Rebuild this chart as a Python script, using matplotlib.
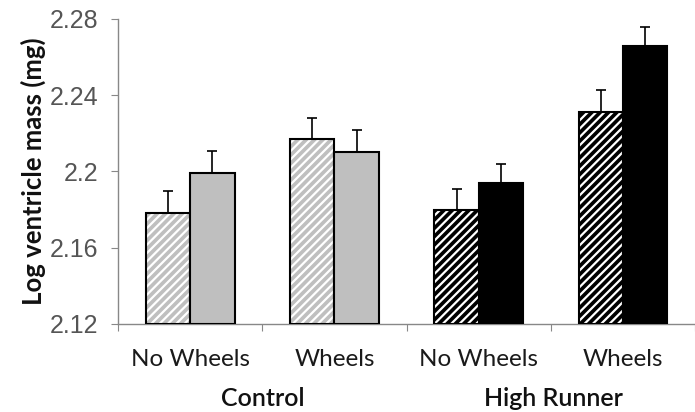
import numpy as np
import matplotlib.pyplot as plt

# data
groups = ["Control", "High Runner"]
conditions = ["No Wheels", "Wheels", "No Wheels", "Wheels"]
hatched_vals = [2.178, 2.217, 2.180, 2.231]
hatched_err = [0.012, 0.011, 0.011, 0.012]
solid_vals = [2.199, 2.210, 2.194, 2.266]
solid_err = [0.012, 0.012, 0.010, 0.010]
fills = ["#bfbfbf", "#bfbfbf", "black", "black"]

plt.rcParams["hatch.linewidth"] = 1.6

fig = plt.figure(figsize=(6.95, 4.12), dpi=100)
ax = fig.add_axes([0.17, 0.2136, 0.83, 0.7403])

x = np.arange(len(conditions)) + 0.5
w = 0.307
ybase = 2.12

# hatched bars: white stripes on fill, then black outline on top
ax.bar(x - w/2, np.array(hatched_vals) - ybase, w, bottom=ybase, color=fills,
       edgecolor="white", hatch="////", linewidth=0, zorder=2)
ax.bar(x - w/2, np.array(hatched_vals) - ybase, w, bottom=ybase, fill=False,
       edgecolor="black", linewidth=1.5, zorder=3)
ax.bar(x + w/2, np.array(solid_vals) - ybase, w, bottom=ybase, color=fills,
       edgecolor="black", linewidth=1.5, zorder=3)

ax.errorbar(x - w/2, hatched_vals, yerr=[np.zeros(4), hatched_err], fmt="none",
            ecolor="black", elinewidth=1.2, capsize=3.5, capthick=1.2, zorder=1)
ax.errorbar(x + w/2, solid_vals, yerr=[np.zeros(4), solid_err], fmt="none",
            ecolor="black", elinewidth=1.2, capsize=3.5, capthick=1.2, zorder=1)

ax.set_xlim(0, 4)
ax.set_ylim(2.12, 2.28)
ax.set_yticks([2.12, 2.16, 2.2, 2.24, 2.28])
ax.set_yticklabels(["2.12", "2.16", "2.2", "2.24", "2.28"],
                   fontsize=18, color="#555555", family="Liberation Sans")

ax.set_xticks(np.arange(5))
ax.set_xticklabels([])
ax.set_xticks(x, minor=True)
ax.set_xticklabels(conditions, minor=True, fontsize=17.5, color="#1a1a1a", family="Lato")
ax.tick_params(axis="x", which="minor", length=0, pad=18)
ax.tick_params(axis="x", which="major", length=5, color="#888888", direction="out")
ax.tick_params(axis="y", length=5, color="#888888", direction="out", pad=9)

for s in ["top", "right"]:
    ax.spines[s].set_visible(False)
for s in ["left", "bottom"]:
    ax.spines[s].set_color("#888888")
    ax.spines[s].set_linewidth(1.0)

ax.set_ylabel("Log ventricle mass (mg)", fontsize=18.5, fontweight="bold",
              family="Lato", color="#111111", labelpad=3)

for i, g in enumerate(groups):
    fig.text((118 + (1 + 2*i) * 145) / 695, 1 - 398 / 412, g, ha="center", va="center",
             fontsize=18, family="Lato", color="#111111", fontweight="semibold")

fig.savefig("out.png", dpi=100)
